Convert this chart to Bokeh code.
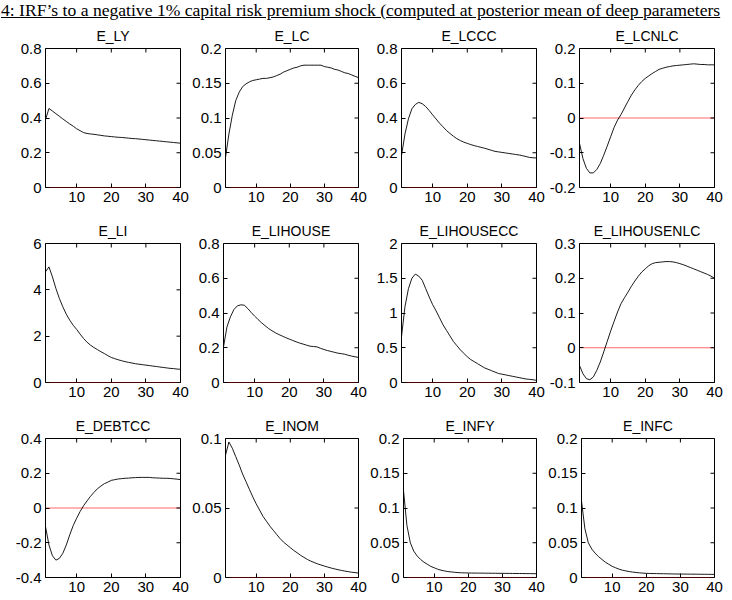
import math
from bokeh.plotting import figure
from bokeh.models import Range1d, FixedTicker, Div, Span
from bokeh.layouts import column, row
from bokeh.embed import file_html
from bokeh.resources import INLINE

periods = list(range(1, 41))

x_ticks = [10, 20, 30, 40]
x_tick_labels = ["10", "20", "30", "40"]

E_LY = [0.39, 0.455, 0.44, 0.425, 0.41, 0.395, 0.38, 0.366, 0.353, 0.338, 0.327, 0.316, 0.311, 0.308,
        0.306, 0.303, 0.3, 0.297, 0.295, 0.293, 0.291, 0.289, 0.288, 0.286, 0.284, 0.282, 0.281, 0.279,
        0.277, 0.275, 0.273, 0.271, 0.269, 0.267, 0.265, 0.263, 0.261, 0.259, 0.257, 0.255]
E_LC = [0.043, 0.077, 0.104, 0.125, 0.137, 0.145, 0.149, 0.152, 0.154, 0.155, 0.156, 0.157, 0.157, 0.158,
        0.159, 0.161, 0.163, 0.166, 0.168, 0.17, 0.172, 0.173, 0.175, 0.176, 0.176, 0.176, 0.176, 0.176,
        0.176, 0.174, 0.173, 0.172, 0.17, 0.169, 0.167, 0.165, 0.164, 0.162, 0.16, 0.158]
E_LCCC = [0.183, 0.308, 0.395, 0.453, 0.478, 0.49, 0.482, 0.466, 0.443, 0.418, 0.394, 0.37, 0.349, 0.328,
          0.311, 0.295, 0.281, 0.27, 0.261, 0.254, 0.247, 0.241, 0.236, 0.231, 0.226, 0.22, 0.214, 0.208,
          0.205, 0.202, 0.199, 0.196, 0.193, 0.19, 0.187, 0.183, 0.178, 0.173, 0.171, 0.17]
E_LCNLC = [-0.073, -0.117, -0.145, -0.158, -0.158, -0.148, -0.131, -0.107, -0.081, -0.054, -0.027, -0.006,
           0.01, 0.029, 0.048, 0.066, 0.081, 0.094, 0.105, 0.114, 0.121, 0.128, 0.134, 0.14, 0.143, 0.146,
           0.148, 0.15, 0.151, 0.152, 0.153, 0.154, 0.155, 0.156, 0.155, 0.154, 0.154, 0.153, 0.153, 0.153]
E_LI = [4.78, 4.99, 4.56, 4.06, 3.63, 3.27, 2.95, 2.69, 2.47, 2.29, 2.09, 1.9, 1.74, 1.61, 1.51, 1.42,
        1.33, 1.25, 1.16, 1.08, 1.03, 0.98, 0.94, 0.9, 0.87, 0.84, 0.81, 0.79, 0.77, 0.75, 0.73, 0.71,
        0.69, 0.67, 0.65, 0.63, 0.61, 0.6, 0.58, 0.57]
E_LIHOUSE = [0.205, 0.32, 0.378, 0.42, 0.441, 0.447, 0.445, 0.426, 0.403, 0.382, 0.362, 0.344, 0.327,
             0.311, 0.298, 0.286, 0.276, 0.267, 0.258, 0.25, 0.242, 0.234, 0.227, 0.221, 0.215, 0.209,
             0.207, 0.205, 0.197, 0.19, 0.184, 0.179, 0.174, 0.169, 0.166, 0.163, 0.157, 0.152, 0.148, 0.144]
E_LIHOUSECC = [0.66, 1.09, 1.35, 1.5, 1.56, 1.53, 1.47, 1.35, 1.23, 1.12, 1.03, 0.93, 0.83, 0.75, 0.67,
               0.59, 0.53, 0.47, 0.42, 0.37, 0.33, 0.3, 0.27, 0.24, 0.21, 0.19, 0.17, 0.15, 0.13, 0.12,
               0.11, 0.1, 0.09, 0.08, 0.07, 0.06, 0.05, 0.045, 0.04, 0.03]
E_LIHOUSENLC = [-0.051, -0.075, -0.089, -0.092, -0.084, -0.065, -0.041, -0.012, 0.018, 0.048, 0.076,
                0.103, 0.127, 0.144, 0.16, 0.177, 0.192, 0.206, 0.218, 0.227, 0.236, 0.242, 0.245, 0.246,
                0.247, 0.248, 0.248, 0.247, 0.245, 0.242, 0.239, 0.235, 0.231, 0.227, 0.223, 0.219, 0.215,
                0.211, 0.206, 0.2]
E_DEBTCC = [-0.107, -0.213, -0.275, -0.3, -0.29, -0.261, -0.213, -0.155, -0.101, -0.059, -0.02, 0.013,
            0.041, 0.067, 0.09, 0.111, 0.126, 0.14, 0.149, 0.159, 0.163, 0.167, 0.169, 0.171, 0.172, 0.174,
            0.175, 0.176, 0.176, 0.176, 0.176, 0.174, 0.173, 0.172, 0.171, 0.171, 0.17, 0.168, 0.166, 0.163]
E_INOM = [0.088, 0.0975, 0.093, 0.087, 0.081, 0.0745, 0.069, 0.0635, 0.058, 0.053, 0.0485, 0.044, 0.0405,
          0.037, 0.034, 0.031, 0.028, 0.0255, 0.0235, 0.0215, 0.0195, 0.0178, 0.016, 0.0145, 0.013, 0.0118,
          0.0108, 0.0098, 0.009, 0.0082, 0.0075, 0.0068, 0.0062, 0.0056, 0.0051, 0.0046, 0.0042, 0.0038,
          0.0035, 0.0032]
E_INFY = [0.125, 0.075, 0.05, 0.038, 0.031, 0.026, 0.022, 0.019, 0.016, 0.014, 0.012, 0.0105, 0.0095,
          0.0085, 0.008, 0.0075, 0.007, 0.0068, 0.0066, 0.0065, 0.0064, 0.0064, 0.0063, 0.0063, 0.0062,
          0.0062, 0.0061, 0.0061, 0.006, 0.006, 0.0059, 0.0059, 0.0058, 0.0058, 0.0057, 0.0057, 0.0056,
          0.0056, 0.0055, 0.0055]
E_INFC = [0.11, 0.07, 0.05, 0.041, 0.035, 0.03, 0.026, 0.022, 0.019, 0.016, 0.014, 0.012, 0.0105, 0.0095,
          0.0085, 0.0078, 0.0072, 0.0067, 0.0063, 0.006, 0.0058, 0.0057, 0.0056, 0.0055, 0.0054, 0.0053,
          0.0052, 0.0051, 0.005, 0.005, 0.0049, 0.0049, 0.0048, 0.0048, 0.0047, 0.0047, 0.0046, 0.0046,
          0.0045, 0.0045]

names = ["E_LY", "E_LC", "E_LCCC", "E_LCNLC",
         "E_LI", "E_LIHOUSE", "E_LIHOUSECC", "E_LIHOUSENLC",
         "E_DEBTCC", "E_INOM", "E_INFY", "E_INFC"]
series = [E_LY, E_LC, E_LCCC, E_LCNLC,
          E_LI, E_LIHOUSE, E_LIHOUSECC, E_LIHOUSENLC,
          E_DEBTCC, E_INOM, E_INFY, E_INFC]

y_limits = [(0, 0.8), (0, 0.2), (0, 0.8), (-0.2, 0.2),
            (0, 6), (0, 0.8), (0, 2), (-0.1, 0.3),
            (-0.4, 0.4), (0, 0.1), (0, 0.2), (0, 0.2)]
y_ticks = [[0, 0.2, 0.4, 0.6, 0.8], [0, 0.05, 0.1, 0.15, 0.2], [0, 0.2, 0.4, 0.6, 0.8], [-0.2, -0.1, 0, 0.1, 0.2],
           [0, 2, 4, 6], [0, 0.2, 0.4, 0.6, 0.8], [0, 0.5, 1, 1.5, 2], [-0.1, 0, 0.1, 0.2, 0.3],
           [-0.4, -0.2, 0, 0.2, 0.4], [0, 0.05, 0.1], [0, 0.05, 0.1, 0.15, 0.2], [0, 0.05, 0.1, 0.15, 0.2]]
y_tick_labels = [["0", "0.2", "0.4", "0.6", "0.8"], ["0", "0.05", "0.1", "0.15", "0.2"],
                 ["0", "0.2", "0.4", "0.6", "0.8"], ["-0.2", "-0.1", "0", "0.1", "0.2"],
                 ["0", "2", "4", "6"], ["0", "0.2", "0.4", "0.6", "0.8"],
                 ["0", "0.5", "1", "1.5", "2"], ["-0.1", "0", "0.1", "0.2", "0.3"],
                 ["-0.4", "-0.2", "0", "0.2", "0.4"], ["0", "0.05", "0.1"],
                 ["0", "0.05", "0.1", "0.15", "0.2"], ["0", "0.05", "0.1", "0.15", "0.2"]]

TITLE = "4: IRF\u2019s to a negative 1% capital risk premium shock (computed at posterior mean of deep parameters"

FONT = "Liberation Sans"
FRAME_W, FRAME_H = 135, 139
LEFT = [45, 34, 34, 34]
RIGHT = [9, 9, 9, 18]
TOP = [28, 28, 28]
BOTTOM = [28, 28, 23]


def style_axis(ax):
    ax.axis_line_color = None
    ax.major_tick_in = 4
    ax.major_tick_out = 0
    ax.minor_tick_line_color = None
    ax.major_tick_line_color = "black"
    ax.major_tick_line_width = 1
    ax.major_label_text_font = FONT
    ax.major_label_text_color = "black"
    ax.major_label_text_font_size = "15px"
    ax.major_label_standoff = 4


panels = []
for i, (name, vals) in enumerate(zip(names, series)):
    r, c = divmod(i, 4)
    lo, hi = y_limits[i]
    p = figure(width=LEFT[c] + FRAME_W + RIGHT[c], height=TOP[r] + FRAME_H + BOTTOM[r],
               x_range=Range1d(1, 40), y_range=Range1d(lo, hi),
               output_backend="svg", toolbar_location=None, title=name,
               min_border_left=LEFT[c], min_border_right=RIGHT[c],
               min_border_top=TOP[r], min_border_bottom=BOTTOM[r])
    p.grid.visible = False
    p.outline_line_color = "black"
    p.outline_line_width = 1
    p.outline_line_alpha = 1
    p.background_fill_color = "white"
    p.border_fill_color = "white"
    p.title.text_font = FONT
    p.title.text_font_size = "14px"
    p.title.text_font_style = "normal"
    p.title.align = "center"
    p.title.text_color = "black"
    p.title.standoff = 9

    p.xaxis.ticker = FixedTicker(ticks=x_ticks, minor_ticks=[])
    p.yaxis.ticker = FixedTicker(ticks=y_ticks[i], minor_ticks=[])
    p.xaxis.major_label_overrides = dict(zip(x_ticks, x_tick_labels))
    p.yaxis.major_label_overrides = dict(zip(y_ticks[i], y_tick_labels[i]))
    style_axis(p.xaxis[0])
    style_axis(p.yaxis[0])

    # mirrored inward ticks on the top and right edges (half of each dash is clipped by the frame)
    p.scatter(x=x_ticks, y=[hi] * len(x_ticks), marker="dash", size=8, angle=math.pi / 2,
              line_color="black", line_width=1)
    p.scatter(x=[40] * len(y_ticks[i]), y=y_ticks[i], marker="dash", size=8,
              line_color="black", line_width=1)

    p.add_layout(Span(location=0, dimension="width", line_color="red",
                      line_width=0.6, level="underlay"))
    p.line(periods, vals, line_color="black", line_width=0.9)
    panels.append(p)

title_div = Div(text="<u>" + TITLE + "</u>", width=732, height=20, margin=(0, 0, 0, 0),
                styles={"font-family": "Liberation Serif", "font-size": "17.6px",
                        "white-space": "nowrap", "padding-left": "1px",
                        "line-height": "20px", "color": "black"})

layout = column(title_div,
                row(*panels[0:4], spacing=0),
                row(*panels[4:8], spacing=0),
                row(*panels[8:12], spacing=0),
                spacing=0)

open("out.html", "w").write(file_html(layout, INLINE))
